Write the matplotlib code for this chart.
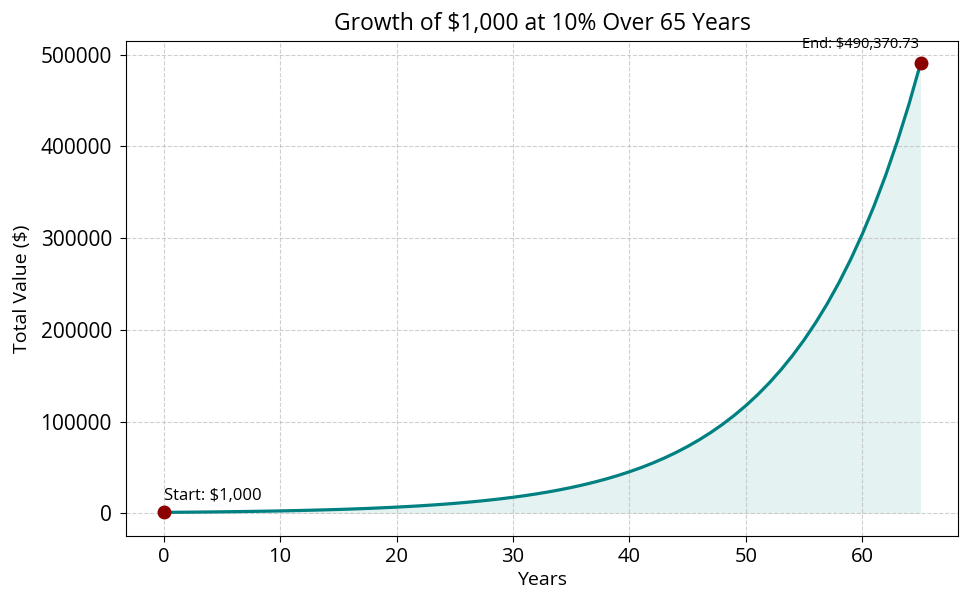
import matplotlib
matplotlib.use('Agg')
import matplotlib.pyplot as plt

plt.rcParams['font.family'] = ['Open Sans', 'DejaVu Sans']

# value of the investment at the end of each year
years = list(range(0, 66))
values = [
    1000.00, 1100.00, 1210.00, 1331.00, 1464.10, 1610.51, 1771.56, 1948.72,
    2143.59, 2357.95, 2593.74, 2853.12, 3138.43, 3452.27, 3797.50, 4177.25,
    4594.97, 5054.47, 5559.92, 6115.91, 6727.50, 7400.25, 8140.27, 8954.30,
    9849.73, 10834.71, 11918.18, 13109.99, 14420.99, 15863.09, 17449.40,
    19194.34, 21113.78, 23225.15, 25547.67, 28102.44, 30912.68, 34003.95,
    37404.34, 41144.78, 45259.26, 49785.18, 54763.70, 60240.07, 66264.08,
    72890.49, 80179.54, 88197.49, 97017.24, 106718.96, 117390.85, 129129.94,
    142042.93, 156247.23, 171871.95, 189059.14, 207965.06, 228761.56,
    251637.72, 276801.49, 304481.64, 334929.81, 368422.79, 405265.07,
    445791.57, 490370.73,
]
title = 'Growth of $1,000 at 10% Over 65 Years'

fig = plt.figure(figsize=(9.75, 6.02), dpi=100)
ax = fig.add_axes([0.129, 0.110, 0.854, 0.822])

ax.plot(years, values, color='teal', linewidth=2.3)
ax.fill_between(years, values, color='teal', alpha=0.1, linewidth=0)

ax.plot([years[0]], [values[0]], 'o', color='darkred', markersize=9)
ax.plot([years[-1]], [values[-1]], 'o', color='darkred', markersize=9)
ax.annotate(f'Start: ${values[0]:,.0f}', xy=(years[0], values[0]),
            xytext=(0, 9), textcoords='offset points', ha='left', fontsize=12)
ax.annotate(f'End: ${values[-1]:,.2f}', xy=(years[-1], values[-1]),
            xytext=(-1, 11), textcoords='offset points', ha='right', fontsize=10.5)

ax.set_title(title, fontsize=16.5, pad=8)
ax.set_xlabel('Years', fontsize=14, labelpad=3)
ax.set_ylabel('Total Value ($)', fontsize=14, labelpad=7)
ax.tick_params(axis='x', labelsize=14.5, length=4, pad=4)
ax.tick_params(axis='y', labelsize=15, length=4, pad=6)
ax.grid(True, linestyle='--', alpha=0.6)

plt.savefig('out.png', dpi=100)
